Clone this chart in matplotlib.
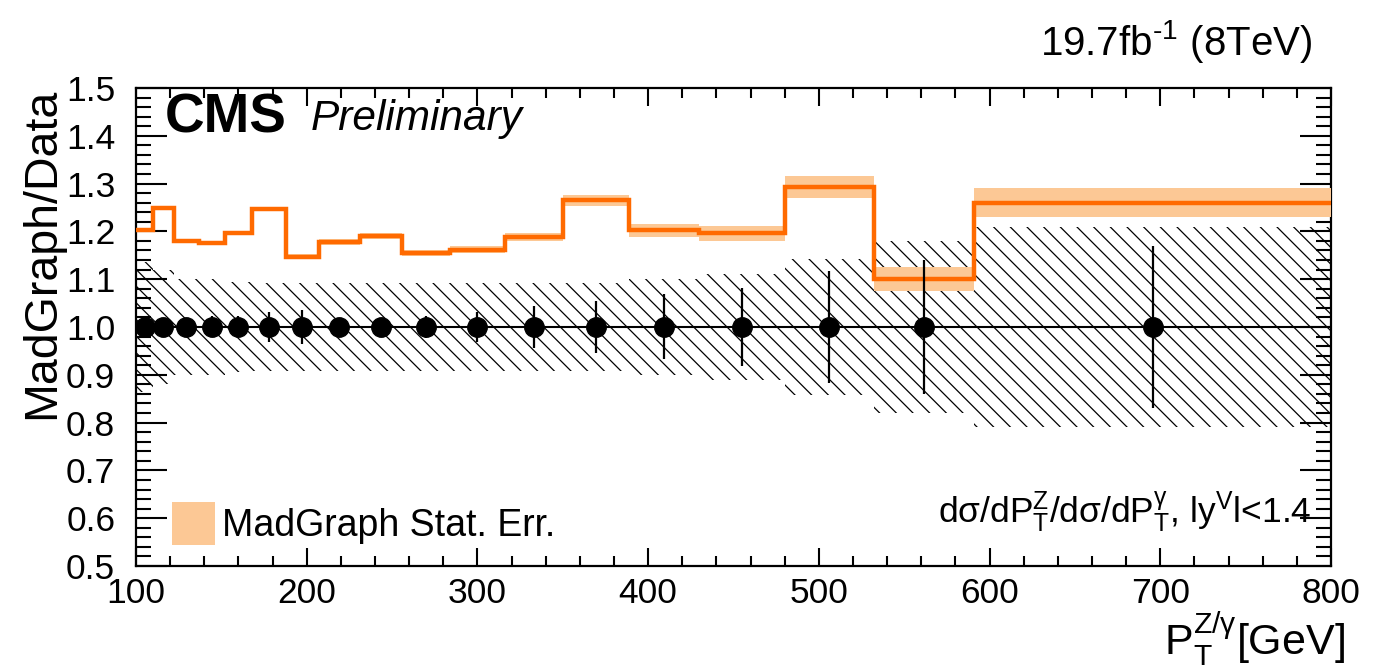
import numpy as np
import matplotlib
matplotlib.use("Agg")
import matplotlib.pyplot as plt
from matplotlib.patches import Patch
from matplotlib.ticker import MultipleLocator, FormatStrFormatter

plt.rcParams["font.family"] = ["Liberation Sans", "DejaVu Sans"]
plt.rcParams["mathtext.fontset"] = "custom"
plt.rcParams["mathtext.rm"] = "Liberation Sans"
plt.rcParams["mathtext.it"] = "Liberation Sans:italic"
plt.rcParams["mathtext.bf"] = "Liberation Sans:bold"
plt.rcParams["mathtext.sf"] = "Liberation Sans"
plt.rcParams["hatch.linewidth"] = 0.9

# P_T bin edges [GeV]
bin_edges = [100, 110, 122, 137, 152, 168, 188, 207, 231, 256, 284,
             316, 350, 389, 430, 480, 532, 591, 800]

# data / data ratio with statistical error
data_ratio = [1.0] * 18
data_err = [0.010, 0.010, 0.015, 0.022, 0.022, 0.031, 0.035, 0.018, 0.018,
            0.024, 0.031, 0.043, 0.054, 0.068, 0.082, 0.117, 0.140, 0.170]

# systematic uncertainty of the data (hatched band)
syst_err = [0.135, 0.12, 0.10, 0.10, 0.095, 0.092, 0.092, 0.092, 0.092,
            0.092, 0.092, 0.092, 0.092, 0.10, 0.11, 0.143, 0.18, 0.21]

# MadGraph / data ratio and its statistical error
mg_ratio = [1.203, 1.248, 1.180, 1.175, 1.197, 1.247, 1.147, 1.178, 1.190,
            1.154, 1.162, 1.188, 1.265, 1.202, 1.196, 1.292, 1.100, 1.260]
mg_err = [0.004, 0.004, 0.004, 0.004, 0.004, 0.005, 0.005, 0.006, 0.006,
          0.006, 0.007, 0.009, 0.012, 0.013, 0.016, 0.023, 0.025, 0.030]

edges = np.array(bin_edges, dtype=float)
centers = 0.5 * (edges[:-1] + edges[1:])
data = np.array(data_ratio)
derr = np.array(data_err)
syst = np.array(syst_err)
mg = np.array(mg_ratio)
mge = np.array(mg_err)

ORANGE = "#ff6a00"
BAND = "#fcc895"

fig = plt.figure(figsize=(13.89, 6.71), dpi=100)
ax = fig.add_axes([0.0979, 0.1565, 0.8604, 0.7124])

# hatched systematic band around unity
ax.stairs(data + syst, edges, baseline=data - syst, fill=True,
          facecolor="none", edgecolor="black", hatch="\\\\", linewidth=0,
          zorder=1)

# reference line at one
ax.axhline(1.0, color="black", lw=1.5, zorder=2)

# MadGraph statistical band and central line
ax.stairs(mg + mge, edges, baseline=mg - mge, fill=True, color=BAND,
          linewidth=0, zorder=3)
ax.stairs(mg, edges, baseline=None, color=ORANGE, lw=3.2, zorder=4)

# data points
ax.errorbar(centers, data, yerr=derr, fmt="o", color="black", ms=14,
            elinewidth=1.6, capsize=0, zorder=5)

ax.set_xlim(100, 800)
ax.set_ylim(0.5, 1.5)
ax.xaxis.set_major_locator(MultipleLocator(100))
ax.xaxis.set_minor_locator(MultipleLocator(20))
ax.yaxis.set_major_locator(MultipleLocator(0.1))
ax.yaxis.set_minor_locator(MultipleLocator(0.02))
ax.yaxis.set_major_formatter(FormatStrFormatter("%.1f"))

for s in ax.spines.values():
    s.set_linewidth(1.6)

ax.tick_params(axis="both", which="both", direction="in", top=True,
               right=True, width=1.5, labelsize=25.5)
ax.tick_params(axis="y", which="major", length=22, pad=15)
ax.tick_params(axis="y", which="minor", length=11)
ax.tick_params(axis="x", which="major", length=13, pad=8)
ax.tick_params(axis="x", which="minor", length=7)

# axis titles
fig.text(0.030, 0.869, "MadGraph/Data", rotation=90, ha="center",
         va="top", fontsize=33.5)
fig.text(0.968, 0.024, r"P$_{\mathregular{T}}^{\mathregular{Z/\gamma}}$[GeV]",
         ha="right", va="baseline", fontsize=31)

# labels inside the frame
ax.text(0.024, 0.906, "CMS", transform=ax.transAxes, fontsize=39.5,
        fontweight="bold", ha="left", va="baseline")
ax.text(0.146, 0.912, "Preliminary", transform=ax.transAxes, fontsize=30.5,
        fontstyle="italic", ha="left", va="baseline")
ax.text(0.984, 0.092,
        r"d$\mathregular{\sigma}$/dP$_{\mathregular{T}}^{\mathregular{Z}}$"
        r"/d$\mathregular{\sigma}$/dP$_{\mathregular{T}}^{\mathregular{\gamma}}$"
        r", ly$^{\mathregular{V}}$l<1.4",
        transform=ax.transAxes, fontsize=25.5, ha="right", va="baseline")

fig.text(0.9446, 0.918, r"19.7fb$^{\text{-1}}$ (8TeV)", ha="right",
         va="baseline", fontsize=29)

ax.legend(handles=[Patch(facecolor=BAND, edgecolor="none")],
          labels=["MadGraph Stat. Err."], loc="lower left",
          bbox_to_anchor=(0.030, 0.044), frameon=False, fontsize=27,
          handlelength=1.15, handleheight=1.4, handletextpad=0.2,
          borderpad=0, borderaxespad=0)

fig.savefig("out.png", dpi=100)
